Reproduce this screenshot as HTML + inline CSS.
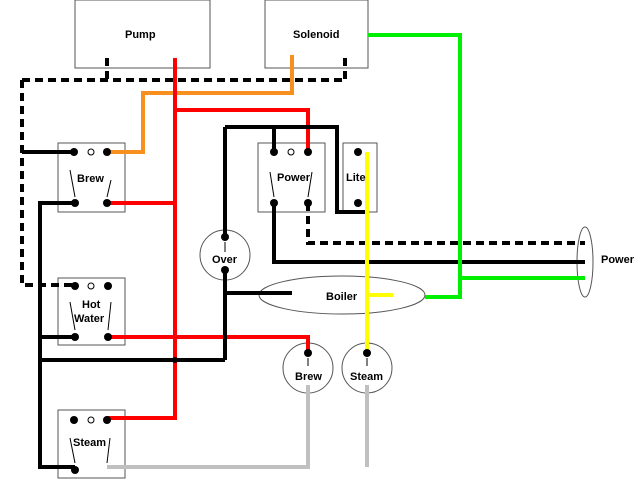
<!DOCTYPE html>
<html><head><style>body{margin:0;background:#fff}svg{display:block}text{font-family:"Liberation Sans",Arial,sans-serif;font-weight:bold;font-size:11px;fill:#000}</style></head><body>
<svg width="640" height="480" viewBox="0 0 640 480" xmlns="http://www.w3.org/2000/svg">
<g fill="#fff" stroke="#555" stroke-width="1">
<rect x="75" y="0" width="135" height="68"/>
<rect x="265" y="0" width="103" height="68"/>
<rect x="58" y="143" width="67" height="69"/>
<rect x="58" y="278" width="67" height="67"/>
<rect x="58" y="410" width="67" height="68"/>
<rect x="258" y="143" width="67" height="69"/>
<rect x="343" y="143" width="34" height="69"/>
<ellipse cx="342" cy="295" rx="83" ry="19"/>
<ellipse cx="585" cy="262" rx="8" ry="35"/>
<circle cx="225" cy="255" r="25"/>
<circle cx="308" cy="368" r="25"/>
<circle cx="367" cy="368" r="25"/>
</g>
<text x="125" y="38">Pump</text><text x="293" y="38">Solenoid</text>
<g fill="none" stroke-width="4">
<path d="M107 58V80M345 58V80M22 80H345M22 80V285H75" stroke="#000" stroke-dasharray="8,5"/>
<path d="M308 203V243H585" stroke="#000" stroke-dasharray="8,5"/>
<path d="M292 55V93H143V152H107" stroke="#f7901e"/>
<path d="M175 58V418H107M175 110H308V152M107 203H175M108 337H308V355" stroke="#f00"/>
<path d="M22 152H74M75 203H40V467H75M75 337H40M40 360H225M225 270V360M225 237V127M225 127H337V212H367M274 152V127M274 203V262H585M225 293H292" stroke="#000"/>
<path d="M367 152V355M367 295H393" stroke="#ff0"/>
<path d="M368 35H460V297H425M460 278H585" stroke="#0e0"/>
<path d="M308 385V467H107M367 385V467" stroke="#c0c0c0"/>
</g>
<g fill="#000">
<circle cx="74" cy="152" r="4"/><circle cx="107" cy="152" r="4"/><circle cx="75" cy="203" r="4"/><circle cx="107" cy="203" r="4"/>
<circle cx="75" cy="286" r="4"/><circle cx="108" cy="286" r="4"/><circle cx="75" cy="337" r="4"/><circle cx="108" cy="337" r="4"/>
<circle cx="74" cy="420" r="4"/><circle cx="107" cy="420" r="4"/><circle cx="75" cy="470" r="4"/>
<circle cx="274" cy="152" r="4"/><circle cx="308" cy="152" r="4"/><circle cx="274" cy="203" r="4"/><circle cx="308" cy="203" r="4"/>
<circle cx="358" cy="152" r="4"/><circle cx="358" cy="203" r="4"/>
<circle cx="225" cy="237" r="4"/><circle cx="225" cy="270" r="4"/>
<circle cx="308" cy="353" r="4"/><circle cx="367" cy="353" r="4"/><circle cx="175" cy="360" r="3"/>
</g>
<g fill="none" stroke="#000" stroke-width="1">
<circle cx="91" cy="152" r="3"/><circle cx="91" cy="286" r="3"/><circle cx="91" cy="420" r="3"/><circle cx="291" cy="152" r="3"/>
<path d="M70 170L75 197M111 180L107 197M70 302L75 330M111 302L108 330M70 438L75 463M110 438L107 463M270 172L274 197M312 172L308 197M225 242V252M308 358V366M367 358V366"/>
</g>
<text x="77" y="182">Brew</text><text x="82" y="308" font-size="12">Hot</text><text x="74" y="322" font-size="12">Water</text>
<text x="73" y="446">Steam</text><text x="277" y="181" font-size="12">Power</text><text x="346" y="181">Lite</text>
<text x="212" y="263">Over</text><text x="326" y="300">Boiler</text><text x="601" y="263">Power</text>
<text x="295" y="380" font-size="10">Brew</text><text x="350" y="380" font-size="10">Steam</text>
</svg>
</body></html>
